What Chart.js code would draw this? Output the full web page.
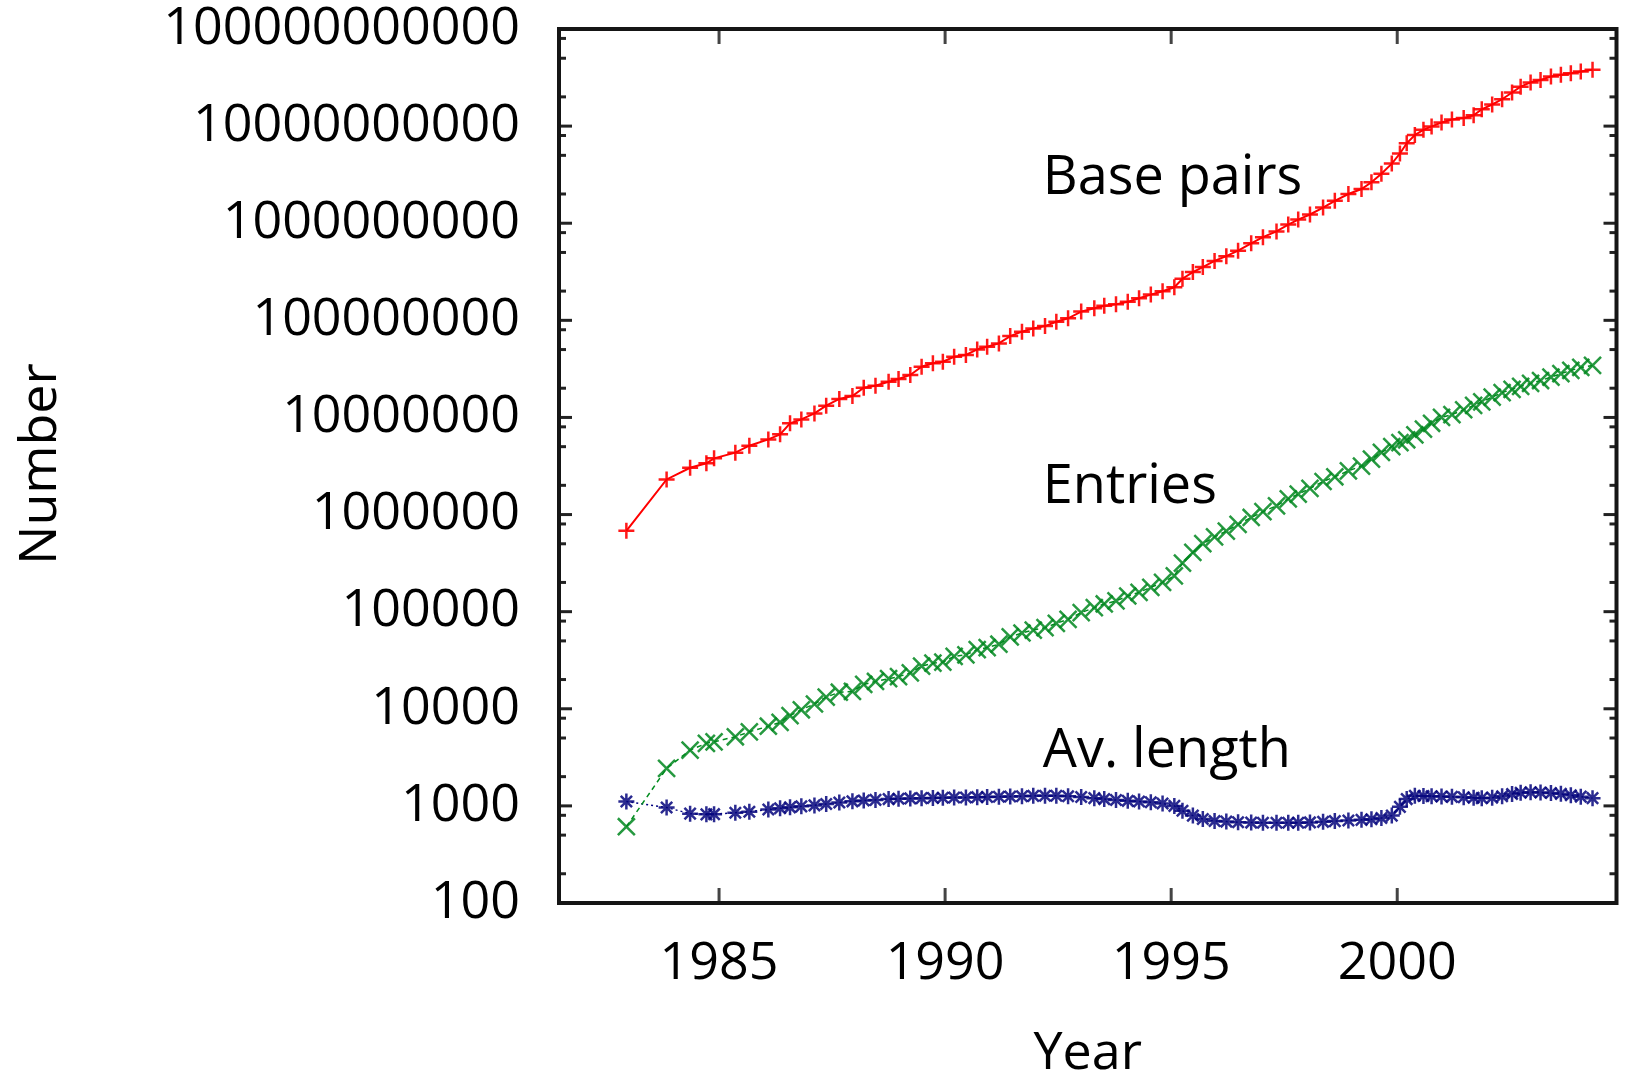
<!DOCTYPE html>
<html>
<head>
<meta charset="utf-8">
<title>GenBank growth</title>
<script src="https://cdn.jsdelivr.net/npm/chart.js@4.4.1/dist/chart.umd.min.js"></script>
<style>
  html, body { margin: 0; padding: 0; background: #fff; }
  #wrap { width: 1631px; height: 1073px; position: relative; }
</style>
</head>
<body>
<div id="wrap"><canvas id="chart"></canvas></div>
<script>
// release dates (decimal year)
const years = [
  1982.95, 1983.84, 1984.36, 1984.72, 1984.89, 1985.36, 1985.67, 1986.09, 1986.35, 1986.57,
  1986.82, 1987.11, 1987.37, 1987.66, 1987.95, 1988.2, 1988.46, 1988.75, 1988.97, 1989.23,
  1989.48, 1989.73, 1989.95, 1990.2, 1990.46, 1990.71, 1990.93, 1991.19, 1991.44, 1991.7,
  1991.95, 1992.21, 1992.46, 1992.72, 1993.01, 1993.3, 1993.52, 1993.78, 1994.04, 1994.29,
  1994.55, 1994.81, 1995.07, 1995.25, 1995.48, 1995.7, 1995.96, 1996.22, 1996.48, 1996.77,
  1997.03, 1997.33, 1997.59, 1997.81, 1998.07, 1998.36, 1998.62, 1998.92, 1999.21, 1999.43,
  1999.65, 1999.88, 2000.06, 2000.21, 2000.39, 2000.58, 2000.76, 2000.98, 2001.21, 2001.47,
  2001.69, 2001.87, 2002.1, 2002.32, 2002.54, 2002.73, 2002.95, 2003.17, 2003.4, 2003.62,
  2003.84, 2004.06, 2004.32
];

const basePairs = [
  680000, 2300000, 3030000, 3370000, 3790000, 4340000, 5120000, 5940000, 6700000, 8690000,
  9550000, 11000000, 13200000, 15500000, 16600000, 20200000, 21200000, 23300000, 24900000, 27400000,
  33300000, 36100000, 37500000, 42200000, 44000000, 50200000, 53500000, 57900000, 68900000, 76400000,
  82600000, 87300000, 96800000, 105000000, 123000000, 133000000, 141000000, 146000000, 155000000, 169000000,
  184000000, 199000000, 219000000, 268000000, 314000000, 354000000, 409000000, 458000000, 521000000, 621000000,
  718000000, 824000000, 968000000, 1090000000, 1230000000, 1450000000, 1700000000, 2000000000, 2250000000, 2640000000,
  3230000000, 4110000000, 5220000000, 6650000000, 8110000000, 9160000000, 9930000000, 10900000000, 11700000000, 12100000000,
  12900000000, 14900000000, 16700000000, 18900000000, 22200000000, 25500000000, 28200000000, 29900000000, 32400000000, 33700000000,
  35100000000, 36500000000, 38000000000
];

const entries = [
  610, 2430, 3760, 4410, 4570, 5150, 5790, 6610, 7240, 8510,
  9770, 11200, 13200, 14800, 15100, 17800, 19100, 20400, 21400, 23400,
  27500, 29500, 30200, 34700, 35900, 40700, 42700, 46200, 55000, 60300,
  64600, 68400, 75900, 83200, 97700, 110000, 120000, 129000, 145000, 158000,
  178000, 200000, 234000, 316000, 407000, 501000, 589000, 676000, 794000, 933000,
  1070000, 1230000, 1450000, 1620000, 1860000, 2190000, 2450000, 2820000, 3160000, 3720000,
  4370000, 5010000, 5500000, 5890000, 6610000, 7590000, 8710000, 10000000, 10700000, 12000000,
  13300000, 14500000, 16200000, 18000000, 19500000, 20900000, 22400000, 24000000, 26000000, 28200000,
  30500000, 32700000, 34300000
];

const avLength = [
  1110, 962, 832, 818, 822, 851, 871, 918, 944, 966,
  989, 1012, 1047, 1084, 1114, 1135, 1153, 1175, 1186, 1194,
  1202, 1208, 1213, 1219, 1222, 1230, 1236, 1242, 1250, 1259,
  1268, 1274, 1271, 1259, 1236, 1202, 1175, 1148, 1127, 1109,
  1091, 1059, 1000, 891, 794, 733, 700, 689, 679, 673,
  670, 670, 670, 671, 676, 685, 697, 708, 718, 728,
  750, 794, 977, 1175, 1274, 1265, 1259, 1250, 1239, 1225,
  1211, 1202, 1216, 1259, 1324, 1365, 1380, 1374, 1355, 1330,
  1288, 1245, 1202
];

const xTicks = [1985, 1990, 1995, 2000];
const yTicks = [100, 1000, 10000, 100000, 1000000, 10000000, 100000000, 1000000000, 10000000000, 100000000000];
const yTickLabels = ["100", "1000", "10000", "100000", "1000000", "10000000", "100000000",
  "1000000000", "10000000000", "100000000000"];
const minorFactors = [2, 5, 8];

const seriesNames = ["Base pairs", "Entries", "Av. length"];
// where the in-plot labels sit, in data coordinates (year, value at baseline)
const labelYears = [1992.16, 1992.16, 1992.16];
const labelValues = [2000000000, 1320000, 2500];

const FONT = "'Open Sans', 'DejaVu Sans', sans-serif";

function points(vals) {
  return years.map((yr, i) => ({ x: yr, y: vals[i] }));
}

// keep tick labels from pushing the plot area around
function noPad(s) {
  s.paddingTop = 0;
  s.paddingBottom = 0;
  s.paddingLeft = 0;
  s.paddingRight = 0;
}

const decorPlugin = {
  id: "decor",
  afterDraw(chart) {
    const { ctx, chartArea: a, scales } = chart;
    const xs = scales.x, ys = scales.y;
    ctx.save();

    function seg(x1, y1, x2, y2) {
      ctx.beginPath();
      ctx.moveTo(x1, y1);
      ctx.lineTo(x2, y2);
      ctx.stroke();
    }

    // y ticks, inward on both sides
    ctx.strokeStyle = "#222";
    ctx.lineWidth = 3;
    yTicks.forEach((v, i) => {
      const py = ys.getPixelForValue(v);
      seg(a.left, py, a.left + 13, py);
      seg(a.right, py, a.right - 13, py);
      if (i < yTicks.length - 1) {
        minorFactors.forEach(f => {
          const pm = ys.getPixelForValue(v * f);
          seg(a.left, pm, a.left + 7, pm);
          seg(a.right, pm, a.right - 7, pm);
        });
      }
    });

    // x ticks, bottom and top
    ctx.strokeStyle = "#444";
    xTicks.forEach(t => {
      const px = xs.getPixelForValue(t);
      seg(px, a.bottom, px, a.bottom - 15);
      seg(px, a.top, px, a.top + 15);
    });

    // frame
    ctx.strokeStyle = "#151515";
    ctx.lineWidth = 4;
    ctx.strokeRect(a.left, a.top, a.right - a.left, a.bottom - a.top);

    // series labels
    ctx.fillStyle = "#000";
    ctx.font = "54px " + FONT;
    ctx.textAlign = "left";
    ctx.textBaseline = "alphabetic";
    seriesNames.forEach((name, i) => {
      ctx.fillText(name, xs.getPixelForValue(labelYears[i]), ys.getPixelForValue(labelValues[i]));
    });

    // axis titles
    ctx.font = "52px " + FONT;
    ctx.textAlign = "center";
    ctx.fillText("Year", (a.left + a.right) / 2, 1069);
    ctx.save();
    ctx.translate(56, (a.top + a.bottom) / 2 - 2);
    ctx.rotate(-Math.PI / 2);
    ctx.fillText("Number", 0, 0);
    ctx.restore();

    ctx.restore();
  }
};

new Chart(document.getElementById("chart"), {
  type: "line",
  data: {
    datasets: [
      {
        label: "Base pairs",
        data: points(basePairs),
        borderColor: "#ff0000",
        backgroundColor: "#ff0000",
        borderWidth: 2,
        pointStyle: "cross",
        pointRadius: 8,
        pointBorderWidth: 2.5,
        pointBorderColor: "rgba(255, 0, 0, 0.9)",
        tension: 0
      },
      {
        label: "Entries",
        data: points(entries),
        borderColor: "#008c1e",
        backgroundColor: "#008c1e",
        borderWidth: 1.5,
        borderDash: [5, 4],
        pointStyle: "crossRot",
        pointRadius: 12,
        pointBorderWidth: 2.5,
        pointBorderColor: "rgba(0, 135, 30, 0.85)",
        tension: 0
      },
      {
        label: "Av. length",
        data: points(avLength),
        borderColor: "#00007f",
        backgroundColor: "#00007f",
        borderWidth: 1.5,
        borderDash: [2, 3],
        pointStyle: "star",
        pointRadius: 8,
        pointBorderWidth: 2.5,
        pointBorderColor: "rgba(5, 5, 125, 0.85)",
        tension: 0
      }
    ]
  },
  options: {
    responsive: true,
    maintainAspectRatio: false,
    animation: false,
    layout: { padding: { top: 29, right: 2, left: 0, bottom: 0 } },
    plugins: {
      legend: { display: false },
      tooltip: { enabled: false }
    },
    scales: {
      x: {
        type: "linear",
        min: 1981.46,
        max: 2004.85,
        afterBuildTicks: s => { s.ticks = xTicks.map(v => ({ value: v })); },
        afterFit: s => { s.height = 170; noPad(s); },
        grid: { display: false, drawTicks: false },
        border: { display: false },
        ticks: {
          color: "#000",
          padding: 35,
          maxRotation: 0,
          autoSkip: false,
          font: { family: FONT, size: 52, lineHeight: 1 },
          callback: v => String(v)
        }
      },
      y: {
        type: "logarithmic",
        min: 100,
        max: 100000000000,
        afterBuildTicks: s => { s.ticks = yTicks.map(v => ({ value: v })); },
        afterFit: s => { s.width = 559; noPad(s); },
        grid: { display: false, drawTicks: false },
        border: { display: false },
        ticks: {
          color: "#000",
          padding: 39,
          autoSkip: false,
          font: { family: FONT, size: 52, lineHeight: 1 },
          callback: (v, i) => yTickLabels[i]
        }
      }
    }
  },
  plugins: [decorPlugin]
});
</script>
</body>
</html>
